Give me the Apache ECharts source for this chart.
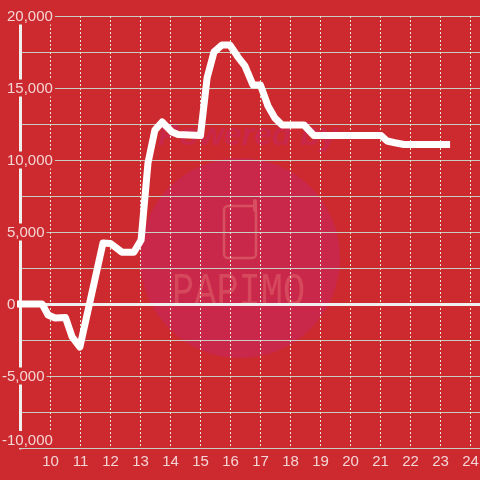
<!DOCTYPE html>
<html>
<head>
<meta charset="utf-8">
<style>html,body{margin:0;padding:0;background:#cc2a2e}#chart{width:480px;height:480px}</style>
<script src="https://cdn.jsdelivr.net/npm/echarts@6/dist/echarts.min.js"></script>
</head>
<body>
<div id="chart"></div>
<script>
// hour of day
var hours = [8.88, 9.72, 9.92, 10.15, 10.5, 10.72, 10.98, 11.75, 12.0, 12.38, 12.78, 13.02, 13.25, 13.48, 13.72, 14.05, 14.25, 15.0, 15.22, 15.45, 15.72, 15.98, 16.25, 16.48, 16.75, 17.0, 17.25, 17.48, 17.72, 18.45, 18.78, 21.02, 21.22, 21.48, 21.78, 23.32];
var values = [0, 0, -760, -970, -940, -2290, -2990, 4240, 4200, 3600, 3600, 4440, 9800, 12080, 12640, 11940, 11770, 11700, 15700, 17500, 17990, 17990, 17150, 16530, 15200, 15200, 13750, 12920, 12430, 12430, 11700, 11700, 11320, 11200, 11080, 11080];
var yTicks = [-10000, -5000, 0, 5000, 10000, 15000, 20000];

var bg = '#cc2a2e';
var labelColor = 'rgba(255,255,255,0.8)';
var font = '"Liberation Sans", Arial, sans-serif';

var myChart = echarts.init(document.getElementById('chart'));

function pair(list) {
    return hours.map(function (h, i) { return [h, list[i]]; });
}

var option = {
    backgroundColor: bg,
    animation: false,
    grid: {left: 20.5, right: 0, top: 16, bottom: 32, outerBoundsMode: 'none'},
    // watermark sits under the grid
    graphic: [
        {type: 'circle', z: -1, shape: {cx: 240, cy: 258, r: 100}, style: {fill: '#c9284a'}},
        {type: 'text', z: -1, x: 158, y: 120, style: {text: 'Powered by', fill: '#c9284a', font: 'italic bold 32px ' + font}},
        {type: 'rect', z: -1, shape: {x: 224, y: 206, width: 32, height: 52, r: 4}, style: {fill: 'none', stroke: '#d94f62', lineWidth: 2.5}},
        {type: 'line', z: -1, shape: {x1: 255, y1: 201, x2: 255, y2: 210}, style: {stroke: '#d94f62', lineWidth: 4, lineCap: 'round'}},
        {type: 'text', z: -1, x: 172, y: 270, scaleY: 1.25, style: {text: 'PAPIMO', fill: '#d6485c', font: '37px "Liberation Mono", monospace'}}
    ],
    xAxis: [
        {
            type: 'value',
            min: 9,
            max: 24.317,
            interval: 1,
            axisLine: {onZero: false, lineStyle: {color: '#c8cdc4', width: 1}},
            axisTick: {show: false},
            splitLine: {show: true, lineStyle: {color: '#e6e6dc', width: 1, type: [2, 2]}},
            axisLabel: {
                color: labelColor,
                fontSize: 15,
                fontFamily: font,
                margin: 6,
                showMinLabel: false,
                showMaxLabel: false
            }
        },
        // thick line along zero
        {
            type: 'value',
            min: 9,
            max: 24.317,
            position: 'bottom',
            axisLine: {show: true, onZero: true, lineStyle: {color: '#f0f0f0', width: 3}},
            axisTick: {show: false},
            splitLine: {show: false},
            axisLabel: {show: false}
        }
    ],
    yAxis: {
        type: 'value',
        min: -10000,
        max: 20000,
        interval: 2500,
        axisLine: {show: true, onZero: false, lineStyle: {color: '#f0f0f0', width: 3}},
        axisTick: {show: false},
        splitLine: {show: true, lineStyle: {color: '#c8cdc4', width: 1}},
        axisLabel: {
            align: 'left',
            margin: 18.5,
            verticalAlignMinLabel: 'bottom',
            formatter: function (v) {
                if (yTicks.indexOf(v) < 0) return '';
                var s = echarts.format.addCommas(v);
                return (v < 0 ? '{neg|' : '{pos|') + s + '}';
            },
            rich: {
                pos: {color: labelColor, fontSize: 15, fontFamily: font, backgroundColor: bg, padding: [2, 2, 0, 5], height: 15},
                neg: {color: labelColor, fontSize: 15, fontFamily: font, backgroundColor: bg, padding: [2, 2, 0, 0], height: 15}
            }
        }
    },
    series: [{
        type: 'line',
        data: pair(values),
        symbol: 'none',
        clip: false,
        z: 5,
        lineStyle: {color: '#ffffff', width: 7, join: 'round'}
    }]
};

myChart.setOption(option);
</script>
</body>
</html>
